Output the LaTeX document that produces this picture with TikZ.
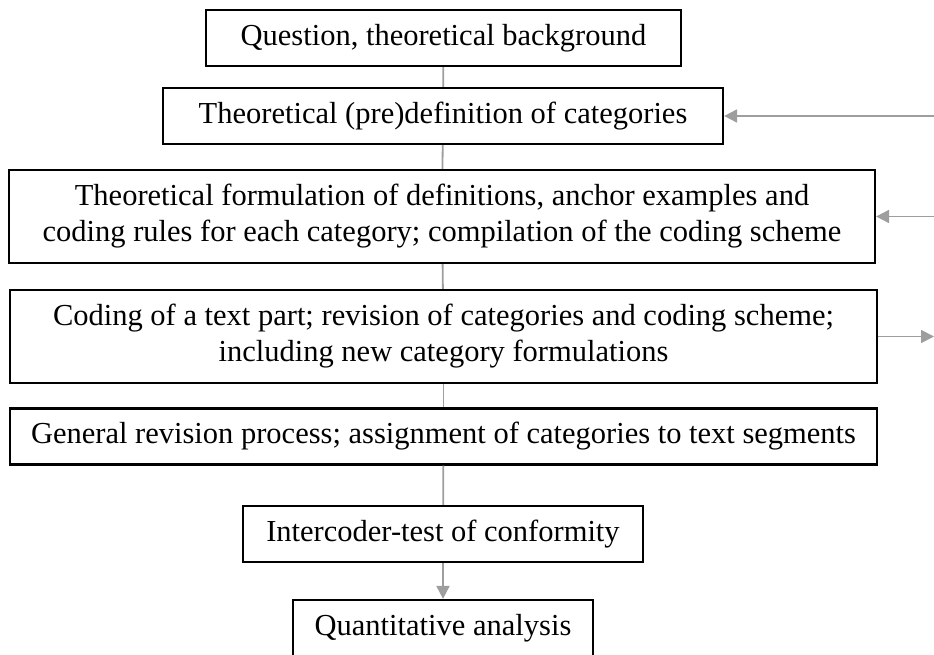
\documentclass[tikz,border=0pt]{standalone}
\usepackage{fontspec}
\setmainfont{Liberation Serif}
\usetikzlibrary{arrows.meta}

\begin{document}
\begin{tikzpicture}
[x=1pt,y=1pt,%
  every node/.style={shape=rectangle,draw=black,line width=2.2pt,inner sep=0pt,align=center},%
  conn/.style={draw=black!38,line width=1.8pt},%
  tip/.style={-{Triangle[length=13pt,width=13pt]}}]
\fontsize{30.5}{36}\selectfont
\useasboundingbox (0,0) rectangle (934,-655);
\clip (0,0) rectangle (934,-655);
% boxes
\node[minimum width=475,minimum height=56] (question) at (443.5,-38) {Question, theoretical background};
\node[minimum width=560,minimum height=56] (predef) at (443,-116) {Theoretical (pre)definition of categories};
\node[minimum width=866,minimum height=93] (formul) at (442,-216.5)
  {Theoretical formulation of definitions, anchor examples and\\coding rules for each category; compilation of the coding scheme};
\node[minimum width=867,minimum height=93] (coding) at (443.5,-336.5)
  {Coding of a text part; revision of categories and coding scheme;\\including new category formulations};
\node[minimum width=867,minimum height=56] (revision) at (443.5,-436.5)
  {General revision process; assignment of categories to text segments};
\node[minimum width=400,minimum height=56] (intercoder) at (443,-534) {Intercoder-test of conformity};
\node[minimum width=300,minimum height=56] (quant) at (443,-628) {Quantitative analysis};
% loose ends on the right
\coordinate (back1) at (934,-116);
\coordinate (back2) at (934,-216.5);
\coordinate (out) at (934,-336.5);
% connectors
\draw[conn] (question) -- (predef);
\draw[conn] (predef) -- (formul);
\draw[conn] (formul) -- (coding);
\draw[conn] (coding) -- (revision);
\draw[conn] (revision) -- (intercoder);
\draw[conn,tip,fill=black!38] (intercoder) -- (quant);
\draw[conn,tip,fill=black!38] (back1) -- (predef);
\draw[conn,tip,fill=black!38] (back2) -- (formul);
\draw[conn,tip,fill=black!38] (coding) -- (out);
\end{tikzpicture}
\end{document}
